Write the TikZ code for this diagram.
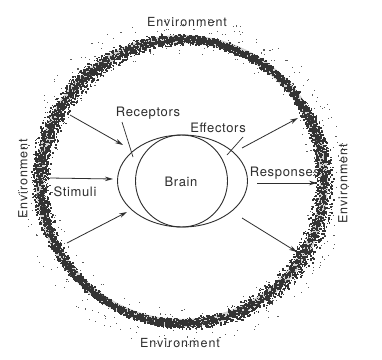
\documentclass[tikz,border=0pt]{standalone}
\usepackage{fontspec}
\setmainfont{TeX Gyre Heros}[LetterSpace=5]
\newfontfamily\envfont{TeX Gyre Heros}[LetterSpace=8]
\usetikzlibrary{arrows.meta,shapes.geometric}
\definecolor{ink}{HTML}{2E2E2E}
\definecolor{speck}{HTML}{333333}
\tikzset{
  lbl/.style={font=\fontsize{13}{15}\selectfont, text=ink, inner sep=0pt},
  envlbl/.style={font=\envfont\fontsize{12.5}{15}\selectfont, text=ink, inner sep=0pt},
  arr/.style={draw=ink, line width=0.8pt, -{Stealth[length=8pt,width=4.5pt]}},
  pointer/.style={draw=ink, line width=0.7pt},
  organ/.style={draw=ink, line width=0.9pt},
}
\begin{document}
\begin{tikzpicture}[x=1pt,y=-1pt]
\useasboundingbox (0,0) rectangle (382,359);
\fill[white] (0,0) rectangle (382,359);
% stippled environment ring
\fill[gray!35, even odd rule] (182,181) circle (138pt) circle (146pt);
\pgfmathsetseed{7}
\foreach \i in {1,...,7000}{
  \pgfmathsetmacro\a{360*rnd}
  \pgfmathsetmacro\r{142+(7+3*sin(2*\a+40))*(rand+rand)/1.7}
  \pgfmathsetmacro\s{0.9+1.3*rnd}
  \fill[speck] ({182+\r*cos(\a)},{181+\r*sin(\a)}) rectangle ++(\s,\s);
}
\foreach \i in {1,...,500}{
  \pgfmathsetmacro\a{360*rnd}
  \pgfmathsetmacro\r{128+38*rnd}
  \pgfmathsetmacro\s{0.6+0.7*rnd}
  \fill[speck!80] ({182+\r*cos(\a)},{181+\r*sin(\a)}) rectangle ++(\s,\s);
}
% brain and sense organs
\node[organ, ellipse, minimum width=130pt, minimum height=92pt, inner sep=0pt] (organs) at (182.5,181) {};
\node[organ, circle, minimum size=92pt, inner sep=0pt] (brainc) at (181.5,181) {};
% labels
\node[lbl] (brain) at (181,182) {Brain};
\node[lbl] (receptors) at (148,113) {Receptors};
\node[lbl] (effectors) at (218,128) {Effectors};
\node[lbl] (stimuli) at (75,192) {Stimuli};
\node[lbl] (responses) at (285,173) {Responses};
\node[envlbl] (envtop) at (187,22) {Environment};
\node[envlbl] (envbot) at (180,343) {Environment};
\node[envlbl, rotate=90] (envleft) at (23,179) {Environment};
\node[envlbl, rotate=90] (envright) at (343,184) {Environment};
% pointer lines
\coordinate (rp1) at (122,122); \coordinate (rp2) at (133,157);
\coordinate (ep1) at (243,137); \coordinate (ep2) at (227,155);
\draw[pointer] (rp1) -- (rp2);
\draw[pointer] (ep1) -- (ep2);
% arrows
\coordinate (i1s) at (70,115);  \coordinate (i1e) at (123,145);
\coordinate (i2s) at (50,178);  \coordinate (i2e) at (113,179);
\coordinate (i3s) at (67,243);  \coordinate (i3e) at (127,212);
\coordinate (o1s) at (242,148); \coordinate (o1e) at (298,118);
\coordinate (o2s) at (257,183); \coordinate (o2e) at (317,183);
\coordinate (o3s) at (242,218); \coordinate (o3e) at (297,252);
\draw[arr] (i1s) -- (i1e);
\draw[arr] (i2s) -- (i2e);
\draw[arr] (i3s) -- (i3e);
\draw[arr] (o1s) -- (o1e);
\draw[arr] (o2s) -- (o2e);
\draw[arr] (o3s) -- (o3e);
\end{tikzpicture}
\end{document}
